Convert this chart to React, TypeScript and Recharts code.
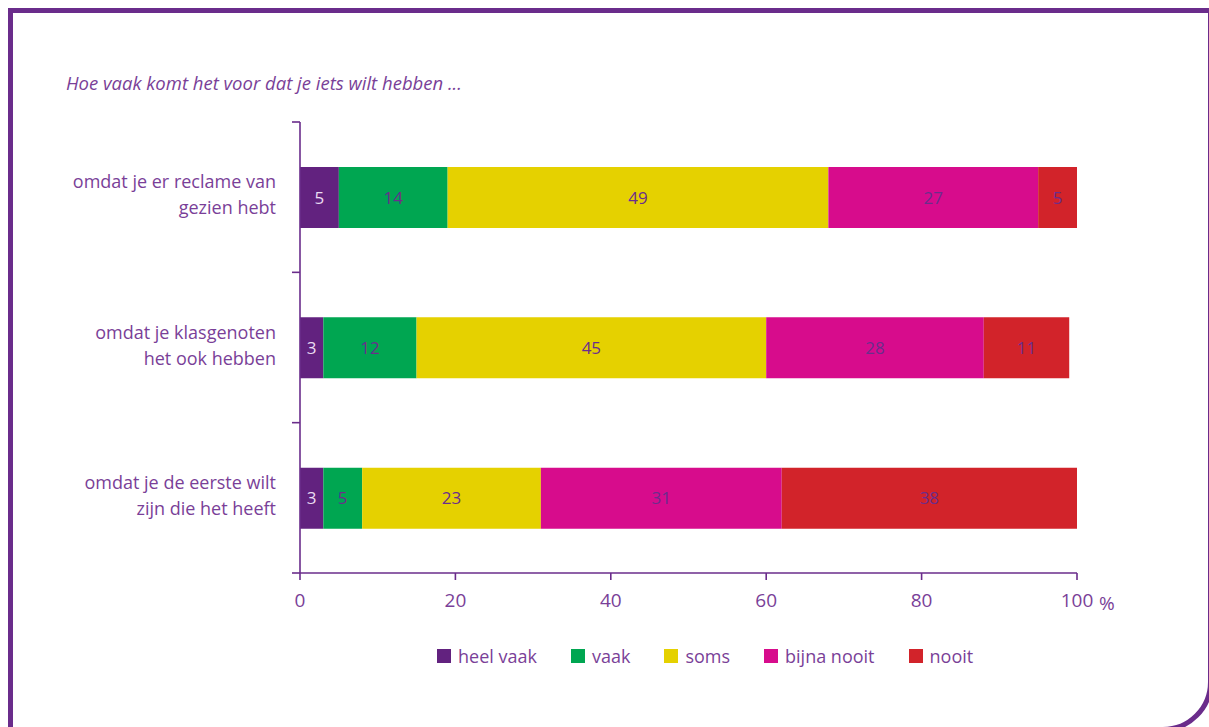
import React from 'react';
import { BarChart, Bar, XAxis, YAxis, LabelList } from 'recharts';

const categories = [
  'omdat je er reclame van\ngezien hebt',
  'omdat je klasgenoten\nhet ook hebben',
  'omdat je de eerste wilt\nzijn die het heeft',
];
const heelVaak = [5, 3, 3];
const vaak = [14, 12, 5];
const soms = [49, 45, 23];
const bijnaNooit = [27, 28, 31];
const nooit = [5, 11, 38];
const xTicks = [0, 20, 40, 60, 80, 100];

const series = [
  { key: 'heelVaak', name: 'heel vaak', color: '#62227f', label: '#eadcf2' },
  { key: 'vaak', name: 'vaak', color: '#00a651', label: '#6b2d8c' },
  { key: 'soms', name: 'soms', color: '#e5d100', label: '#6b2d8c' },
  { key: 'bijnaNooit', name: 'bijna nooit', color: '#d70c8c', label: '#6b2d8c' },
  { key: 'nooit', name: 'nooit', color: '#d2232a', label: '#6b2d8c' },
];

const data = categories.map((name, i) => ({
  name,
  heelVaak: heelVaak[i],
  vaak: vaak[i],
  soms: soms[i],
  bijnaNooit: bijnaNooit[i],
  nooit: nooit[i],
}));

const PURPLE = '#6a2c8b';
const TEXT = '#7a3f98';
const FONT = '"Open Sans", sans-serif';
const LABEL_GAP = 24; // tickSize + tickMargin of the category axis
const LINE_W = 1.6;

// two-line category label, plus tick marks on the band edges (not the centres)
const CategoryTick = ({ x, y, payload, index, visibleTicksCount }: any) => {
  const lines = String(payload.value).split('\n');
  const half = payload.offset ?? 0;
  const ax = x + LABEL_GAP;
  return (
    <g>
      <line x1={ax - 8} x2={ax} y1={y - half} y2={y - half} stroke={PURPLE} strokeWidth={LINE_W} />
      {index === visibleTicksCount - 1 && (
        <line x1={ax - 8} x2={ax} y1={y + half} y2={y + half} stroke={PURPLE} strokeWidth={LINE_W} />
      )}
      <text x={x} y={y} textAnchor="end" fill={TEXT} fontSize={18} fontFamily={FONT}>
        {lines.map((l, i) => (
          <tspan key={i} x={x} dy={i === 0 ? -9 : 26}>
            {l}
          </tspan>
        ))}
      </text>
    </g>
  );
};

const App: React.FC = () => {
  return (
    <div
      style={{
        position: 'fixed',
        left: 0,
        top: 0,
        width: 1209,
        height: 727,
        overflow: 'hidden',
        background: '#fff',
        fontFamily: FONT,
      }}
    >
      <div
        style={{
          position: 'absolute',
          left: 8,
          top: 8,
          width: 1205,
          height: 724,
          boxSizing: 'border-box',
          border: `5px solid ${PURPLE}`,
          borderBottomRightRadius: 50,
        }}
      />
      <div
        style={{
          position: 'absolute',
          left: 66,
          top: 71,
          fontSize: 18.5,
          lineHeight: '24px',
          fontStyle: 'italic',
          color: TEXT,
        }}
      >
        Hoe vaak komt het voor dat je iets wilt hebben ...
      </div>

      <div style={{ position: 'absolute', left: 0, top: 0 }}>
        <BarChart
          width={1209}
          height={727}
          data={data}
          layout="vertical"
          margin={{ top: 122, right: 132, bottom: 94, left: 0 }}
          barSize={61}
        >
          <XAxis
            type="number"
            domain={[0, 100]}
            ticks={xTicks}
            height={60}
            tickSize={7}
            tickMargin={14}
            stroke={PURPLE}
            strokeWidth={LINE_W}
            tick={{ fill: TEXT, fontSize: 19, fontFamily: FONT }}
            label={{ value: '%', position: 'right', offset: 22, fill: TEXT, fontSize: 19, fontFamily: FONT }}
          />
          <YAxis
            type="category"
            dataKey="name"
            width={300}
            stroke={PURPLE}
            strokeWidth={LINE_W}
            tickLine={false}
            tickSize={6}
            tickMargin={18}
            tick={<CategoryTick />}
          />
          {series.map((s) => (
            <Bar
              key={s.key}
              dataKey={s.key}
              name={s.name}
              stackId="a"
              fill={s.color}
              isAnimationActive={false}
            >
              <LabelList
                dataKey={s.key}
                position="center"
                fill={s.label}
                fontSize={17}
                fontFamily={FONT}
              />
            </Bar>
          ))}
        </BarChart>
      </div>

      <div
        style={{
          position: 'absolute',
          left: 437,
          top: 644,
          display: 'flex',
          alignItems: 'center',
          fontSize: 18,
          lineHeight: '24px',
          color: TEXT,
        }}
      >
        {series.map((s) => (
          <div key={s.key} style={{ display: 'flex', alignItems: 'center', marginRight: 34 }}>
            <span style={{ width: 14, height: 14, background: s.color, marginRight: 7, display: 'inline-block' }} />
            <span>{s.name}</span>
          </div>
        ))}
      </div>
    </div>
  );
};

export default App;
